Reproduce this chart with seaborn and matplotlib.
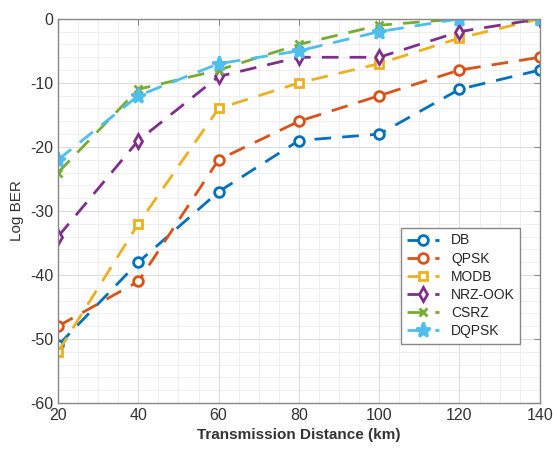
import pandas as pd
import matplotlib.pyplot as plt
import seaborn as sns
from matplotlib.ticker import MultipleLocator

distance = [20, 40, 60, 80, 100, 120, 140]
db = [-51, -38, -27, -19, -18, -11, -8]
qpsk = [-48, -41, -22, -16, -12, -8, -6]
modb = [-52, -32, -14, -10, -7, -3, 0]
nrz_ook = [-34, -19, -9, -6, -6, -2, 0]
csrz = [-24, -11, -8, -4, -1, 0, 0]
dqpsk = [-22, -12, -7, -5, -2, 0, 0]

series = {
    'DB': (db, '#0072BD', 'o', 7),
    'QPSK': (qpsk, '#D95319', 'o', 7),
    'MODB': (modb, '#EDB120', 's', 6),
    'NRZ-OOK': (nrz_ook, '#7E2F8E', 'd', 7),
    'CSRZ': (csrz, '#77AC30', 'x', 6),
    'DQPSK': (dqpsk, '#4DBEEE', '*', 11),
}

sns.set_style('white')
plt.rcParams['font.family'] = ['Liberation Sans', 'DejaVu Sans']
plt.rcParams['axes.unicode_minus'] = False

fig = plt.figure(figsize=(5.53, 4.49), dpi=100)
ax = fig.add_axes([0.105, 0.1024, 0.871, 0.8556])

for name, (vals, color, marker, ms) in series.items():
    df = pd.DataFrame({'x': distance, 'y': vals})
    sns.lineplot(data=df, x='x', y='y', ax=ax, color=color, marker=marker,
                 markersize=ms, linewidth=2, label=name,
                 markerfacecolor='white' if marker in ('o', 's', 'd') else color,
                 markeredgecolor=color, markeredgewidth=2)
    ax.lines[-1].set_dashes([6, 4])

ax.set_xlim(20, 140)
ax.set_ylim(-60, 0)
ax.xaxis.set_major_locator(MultipleLocator(20))
ax.yaxis.set_major_locator(MultipleLocator(10))
ax.xaxis.set_minor_locator(MultipleLocator(5))
ax.yaxis.set_minor_locator(MultipleLocator(2))
ax.grid(True, which='major', color='#dddddd', linewidth=0.8)
ax.grid(True, which='minor', color='#ececec', linewidth=0.6)
ax.set_axisbelow(True)
for s in ax.spines.values():
    s.set_color('#888888')
    s.set_linewidth(1)
ax.tick_params(axis='both', which='major', labelsize=11.5, colors='#888888',
               direction='in', length=4, labelcolor='#333333',
               top=True, right=True)
ax.tick_params(which='minor', length=0)
ax.set_xlabel('Transmission Distance (km)', fontsize=11, fontweight='bold', color='#333333')
ax.set_ylabel('Log BER', fontsize=11, color='#333333')

leg = ax.legend(loc='upper left', bbox_to_anchor=(0.712, 0.456), fontsize=10,
                frameon=True, fancybox=False, framealpha=1, edgecolor='#888888',
                handlelength=2.3, handletextpad=0.9, borderpad=0.4,
                labelspacing=0.3, borderaxespad=0)
for h in leg.get_lines():
    h.set_dashes([6, 4])

fig.savefig('out.png', dpi=100)
